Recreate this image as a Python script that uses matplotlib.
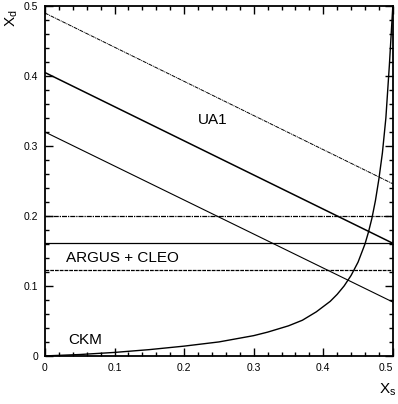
import numpy as np
import matplotlib.pyplot as plt
from matplotlib.ticker import MultipleLocator

# UA1 bands: x_d at x_s = 0 and x_s = 0.5
ua1_left = [0.49, 0.405, 0.32]
ua1_right = [0.246, 0.161, 0.077]

# ARGUS + CLEO levels
argus_levels = [0.2, 0.161, 0.123]

# CKM curve
ckm_xs = [0, 0.05, 0.1, 0.15, 0.2, 0.25, 0.3, 0.32, 0.35, 0.37, 0.39, 0.41, 0.42,
          0.43, 0.44, 0.45, 0.46, 0.465, 0.47, 0.475, 0.48, 0.485, 0.49, 0.495, 0.5]
ckm_xd = [0, 0.002, 0.005, 0.009, 0.014, 0.02, 0.029, 0.034, 0.043, 0.051, 0.063,
          0.078, 0.088, 0.1, 0.115, 0.134, 0.16, 0.177, 0.197, 0.222, 0.253, 0.29,
          0.34, 0.415, 0.5]

plt.rcParams['font.family'] = ['Liberation Sans', 'DejaVu Sans']

fig = plt.figure(figsize=(3.98, 4.04), dpi=100)
ax = fig.add_axes([0.113, 0.119, 0.874, 0.866])

ua1_styles = [dict(lw=0.7, ls=(0, (4, 0.8, 1, 0.8))), dict(lw=1.1, ls='-'), dict(lw=0.8, ls='-')]
for yl, yr, st in zip(ua1_left, ua1_right, ua1_styles):
    ax.plot([0, 0.5], [yl, yr], color='black', **st)

argus_styles = [dict(lw=0.9, ls=(0, (4, 0.8, 1, 0.8))), dict(lw=0.9, ls='-'), dict(lw=0.9, ls=(0, (3, 0.8)))]
for lev, st in zip(argus_levels, argus_styles):
    ax.axhline(lev, color='black', **st)

ax.plot(ckm_xs, ckm_xd, color='black', lw=1.0)

ax.text(0.22, 0.337, 'UA1', fontsize=11, va='center')
ax.text(0.03, 0.14, 'ARGUS + CLEO', fontsize=11, va='center')
ax.text(0.033, 0.023, 'CKM', fontsize=11, va='center')

ax.set_xlim(0, 0.5)
ax.set_ylim(0, 0.5)
ax.xaxis.set_minor_locator(MultipleLocator(0.02))
ax.yaxis.set_minor_locator(MultipleLocator(0.02))
tick_vals = np.arange(0, 0.51, 0.1)
tick_text = ['0', '0.1', '0.2', '0.3', '0.4', '0.5']
ax.set_xticks(tick_vals)
ax.set_xticklabels(tick_text)
ax.set_yticks(tick_vals)
ax.set_yticklabels(tick_text)
ax.get_xticklabels()[-1].set_horizontalalignment('right')
ax.tick_params(which='both', direction='in', top=True, right=True, labelsize=7.5, width=1)
ax.tick_params(which='major', length=6, pad=5)
ax.tick_params(which='minor', length=3)
for sp in ax.spines.values():
    sp.set_linewidth(1.3)

fig.text(0.975, 0.035, r'X$_\mathregular{s}$', fontsize=11, ha='center', va='center')
fig.text(0.03, 0.955, r'X$_\mathregular{d}$', fontsize=11, ha='center', va='center', rotation=90)

fig.savefig('out.png', dpi=100)
